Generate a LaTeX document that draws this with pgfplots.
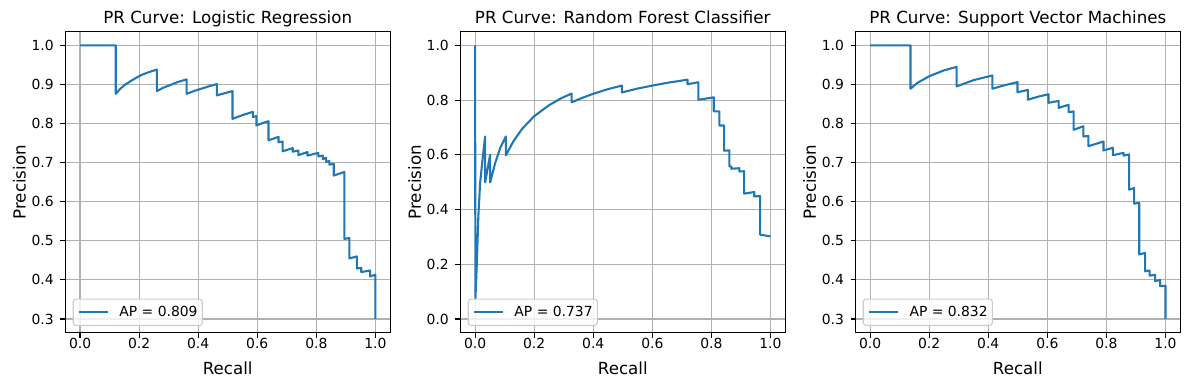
\documentclass[border=0pt]{standalone}
\usepackage{fontspec}
\setmainfont{DejaVu Sans}
\usepackage{pgfplots}
\pgfplotsset{compat=1.18}
\definecolor{tabblue}{HTML}{1F77B4}
\definecolor{gridgray}{HTML}{B0B0B0}
\definecolor{legedge}{HTML}{CCCCCC}

\pgfplotsset{prstyle/.style={
  scale only axis, width=233.9pt, height=216.7pt,
  xmin=-0.05, xmax=1.05,
  xtick={0,0.2,0.4,0.6,0.8,1.0},
  grid=major, major grid style={draw=gridgray, line width=0.8pt},
  axis line style={line width=0.8pt, black},
  tick align=outside, xtick pos=left, ytick pos=left,
  major tick length=3.5pt,
  tick style={black, line width=0.8pt},
  /pgf/number format/fixed, /pgf/number format/fixed zerofill,
  /pgf/number format/precision=1, /pgf/number format/assume math mode=true,
  every tick label/.append style={font=\fontsize{10}{12}\selectfont},
  xticklabel style={anchor=north, inner sep=0pt, yshift=-0.6pt},
  yticklabel style={anchor=east, inner sep=0pt, xshift=-4.6pt},
  title style={at={(0.5,1)}, anchor=base, inner sep=0pt, font=\fontsize{12}{14}\selectfont},
  xlabel=Recall, ylabel=Precision,
  xlabel style={at={(axis description cs:0.5,0)}, anchor=base, yshift=-29.8pt, inner sep=0pt, font=\fontsize{12}{14}\selectfont},
  ylabel style={at={(axis description cs:-0.1218,0.5)}, anchor=base, inner sep=0pt, font=\fontsize{12}{14}\selectfont},
  legend style={at={(0,0)}, anchor=south west, xshift=5.3pt, yshift=4.8pt,
    draw=legedge, line width=0.8pt, rounded corners=2pt, fill=white, fill opacity=0.8, text opacity=1,
    font=\fontsize{10}{12}\selectfont, inner xsep=3.4pt, inner ysep=5pt, nodes={inner sep=0pt}},
  legend cell align=left,
  legend image code/.code={\draw[#1] (0pt,0pt) -- (21pt,0pt); \path (28.4pt,0pt);},
}}
\pgfplotsset{prline/.style={tabblue, line width=1.5pt, line join=round}}

\begin{document}
\begin{tikzpicture}
\useasboundingbox (0,0) rectangle (856pt,280.8pt);

% Logistic Regression
\begin{axis}[prstyle, at={(47pt,41.3pt)}, anchor=south west,
  ymin=0.265, ymax=1.035, ytick={0.3,0.4,0.5,0.6,0.7,0.8,0.9,1.0},
  title={PR Curve: Logistic Regression}]
\addplot[prline] coordinates {
(0,1.0) (0.121,1.0) (0.121,0.876) (0.135,0.888) (0.15,0.898) (0.17,0.908) (0.19,0.917)
(0.21,0.925) (0.235,0.932) (0.26,0.938) (0.26,0.883) (0.28,0.891) (0.30,0.897) (0.33,0.906)
(0.361,0.913) (0.361,0.876) (0.385,0.883) (0.41,0.889) (0.435,0.895) (0.463,0.901)
(0.463,0.872) (0.516,0.883) (0.516,0.812) (0.55,0.8215) (0.585,0.830) (0.585,0.817)
(0.597,0.819) (0.597,0.795) (0.617,0.801) (0.638,0.806) (0.638,0.757) (0.672,0.766)
(0.672,0.752) (0.686,0.754) (0.686,0.729) (0.720,0.737) (0.720,0.728) (0.739,0.731)
(0.739,0.719) (0.770,0.727) (0.770,0.718) (0.807,0.725) (0.807,0.716) (0.822,0.718)
(0.822,0.709) (0.833,0.712) (0.833,0.702) (0.844,0.704) (0.844,0.695) (0.859,0.697)
(0.859,0.667) (0.895,0.676) (0.895,0.505) (0.912,0.507) (0.912,0.455) (0.937,0.460)
(0.937,0.429) (0.952,0.431) (0.952,0.420) (0.982,0.424) (0.982,0.409) (1.0,0.413) (1.0,0.3)
};
\addlegendentry{AP = 0.809}
\end{axis}

% Random Forest
\begin{axis}[prstyle, at={(331.4pt,41.3pt)}, anchor=south west,
  ymin=-0.05, ymax=1.05, ytick={0,0.2,0.4,0.6,0.8,1.0},
  title={PR Curve: Random Forest Classifier}]
\addplot[prline] coordinates {
(0.0,1.0) (0.001,0.071) (0.006,0.205) (0.011,0.375) (0.017,0.497) (0.023,0.56) (0.028,0.61)
(0.034,0.667) (0.034,0.499) (0.051,0.600) (0.051,0.499) (0.068,0.570) (0.085,0.625)
(0.104,0.667) (0.104,0.598) (0.13,0.650) (0.16,0.696) (0.2,0.741) (0.25,0.781) (0.29,0.806)
(0.327,0.824) (0.327,0.792) (0.36,0.807) (0.4,0.823) (0.45,0.840) (0.497,0.853)
(0.497,0.828) (0.55,0.842) (0.6,0.853) (0.65,0.863) (0.719,0.8745) (0.719,0.858)
(0.756,0.865) (0.756,0.801) (0.808,0.810) (0.808,0.759) (0.827,0.759) (0.827,0.707)
(0.843,0.707) (0.843,0.615) (0.861,0.616) (0.861,0.558) (0.868,0.557) (0.868,0.549)
(0.895,0.551) (0.895,0.539) (0.911,0.540) (0.911,0.458) (0.945,0.464) (0.945,0.448)
(0.965,0.449) (0.965,0.308) (1.0,0.302)
};
\addlegendentry{AP = 0.737}
\end{axis}

% SVM
\begin{axis}[prstyle, at={(615.8pt,41.3pt)}, anchor=south west,
  ymin=0.265, ymax=1.035, ytick={0.3,0.4,0.5,0.6,0.7,0.8,0.9,1.0},
  title={PR Curve: Support Vector Machines}]
\addplot[prline] coordinates {
(0,1.0) (0.1366,1.0) (0.1366,0.889) (0.16,0.904) (0.2,0.921) (0.25,0.936) (0.293,0.945)
(0.293,0.895) (0.35,0.911) (0.414,0.923) (0.414,0.889) (0.45,0.897) (0.499,0.906)
(0.499,0.880) (0.534,0.886) (0.534,0.861) (0.57,0.869) (0.604,0.875) (0.604,0.853)
(0.638,0.858) (0.638,0.840) (0.672,0.848) (0.672,0.829) (0.689,0.831) (0.689,0.784)
(0.722,0.793) (0.722,0.767) (0.739,0.768) (0.739,0.742) (0.790,0.754) (0.790,0.731)
(0.822,0.738) (0.822,0.719) (0.858,0.725) (0.858,0.718) (0.877,0.721) (0.877,0.631)
(0.894,0.635) (0.894,0.595) (0.911,0.597) (0.911,0.465) (0.931,0.469) (0.931,0.422)
(0.946,0.424) (0.946,0.411) (0.965,0.413) (0.965,0.397) (0.982,0.400) (0.982,0.384)
(1.0,0.385) (1.0,0.3)
};
\addlegendentry{AP = 0.832}
\end{axis}
\end{tikzpicture}
\end{document}
